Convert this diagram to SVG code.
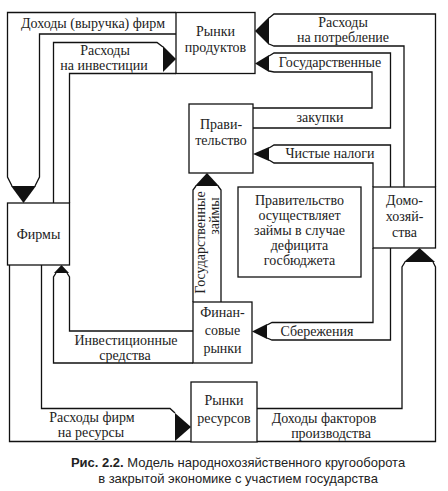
<svg xmlns="http://www.w3.org/2000/svg" width="448" height="491" viewBox="0 0 448 491">
<style>
.ln{fill:none;stroke:#111;stroke-width:1.3;stroke-linejoin:miter}
.box{fill:#fff;stroke:#111;stroke-width:1.3}
.tip{fill:#111;stroke:none}
.t{font-family:'Liberation Serif','DejaVu Serif','Times New Roman',serif;font-size:14px;text-anchor:middle;fill:#222}
.cap{font-family:'Liberation Sans','DejaVu Sans',Arial,sans-serif;font-size:13px;text-anchor:middle;fill:#222}
</style>
<rect width="448" height="491" fill="#fff"/>
<g id="connectors">
  <g id="c-revenue">
    <path class="ln" d="M176,12.5 H7.5 V177 L12,186"/>
    <path class="ln" d="M176,34 H39.5 V177 L35,186"/>
    <path class="tip" d="M11,186 L36,186 L23.5,203 Z"/>
    <text class="t" x="93" y="28">Доходы (выручка) фирм</text>
  </g>
  <g id="c-invest">
    <path class="ln" d="M53.5,203 V42.5 H157 L163,47"/>
    <path class="ln" d="M69.5,203 V73.5 H176"/>
    <path class="tip" d="M163,46 L163,72 L176,59 Z"/>
    <text class="t" x="105" y="55">Расходы</text>
    <text class="t" x="104" y="69.5">на инвестиции</text>
  </g>
  <g id="c-consumption">
    <path class="ln" d="M435.5,187 V14 H274 L269,18"/>
    <path class="ln" d="M404,187 V46 H274 L269,44"/>
    <path class="tip" d="M269,17 L269,45 L255,31 Z"/>
    <text class="t" x="343" y="27">Расходы</text>
    <text class="t" x="343" y="41.5">на потребление</text>
  </g>
  <g id="c-purchases">
    <path class="ln" d="M253,128 H390.5 V53 H274 L269,56"/>
    <path class="ln" d="M253,108 H372 V72 H274 L269,71"/>
    <path class="tip" d="M269,55 L269,72 L255,63.5 Z"/>
    <text class="t" x="330" y="67">Государственные</text>
    <text class="t" x="320" y="122">закупки</text>
  </g>
  <g id="c-taxes">
    <path class="ln" d="M390.5,187 V145 H274 L269,148"/>
    <path class="ln" d="M373,187 V163 H274 L269,160"/>
    <path class="tip" d="M269,147 L269,161 L253,154 Z"/>
    <text class="t" x="330" y="158">Чистые налоги</text>
  </g>
  <g id="c-savings">
    <path class="ln" d="M373,248 V322.5 H272 L267,325"/>
    <path class="ln" d="M390.5,248 V340 H272 L267,338"/>
    <path class="tip" d="M267,324 L267,339 L252,331.5 Z"/>
    <text class="t" x="317" y="336">Сбережения</text>
  </g>
  <g id="c-factor">
    <path class="ln" d="M257,408.5 H402 V267 L405,262"/>
    <path class="ln" d="M257,441.5 H435.5 V267 L433,262"/>
    <path class="tip" d="M404,262 L435,262 L419.5,248 Z"/>
    <text class="t" x="324" y="423">Доходы факторов</text>
    <text class="t" x="331" y="437.5">производства</text>
  </g>
  <g id="c-investfunds">
    <path class="ln" d="M193,331 H69.5 V277 L67,273"/>
    <path class="ln" d="M193,363 H53.5 V277 L56,273"/>
    <path class="tip" d="M54,273 L69,273 L61.5,265 Z"/>
    <text class="t" x="126" y="345">Инвестиционные</text>
    <text class="t" x="125" y="359.5">средства</text>
  </g>
  <g id="c-loans">
    <path class="ln" d="M193,302 V190 L196,186"/>
    <path class="ln" d="M221,302 V190 L218,186"/>
    <path class="tip" d="M195,186 L219,186 L207,173 Z"/>
    <text class="t" transform="translate(205,242.5) rotate(-90)">Государственные</text>
    <text class="t" transform="translate(218.5,216) rotate(-90)">займы</text>
  </g>
  <g id="c-resources">
    <path class="ln" d="M9.5,265 V441.5 H191"/>
    <path class="ln" d="M41.5,265 V408.5 H170 L175,413"/>
    <path class="tip" d="M175,413 L175,441 L191,427 Z"/>
    <text class="t" x="92" y="422">Расходы фирм</text>
    <text class="t" x="91" y="436.5">на ресурсы</text>
  </g>
</g>
<g id="n-product-markets">
  <rect class="box" x="176" y="12.5" width="79" height="61"/>
  <text class="t" x="215.5" y="36">Рынки</text>
  <text class="t" x="215.5" y="52">продуктов</text>
</g>
<g id="n-firms">
  <rect class="box" x="7.5" y="203" width="62" height="62"/>
  <text class="t" x="38.5" y="239">Фирмы</text>
</g>
<g id="n-government">
  <rect class="box" x="189" y="104" width="64" height="69"/>
  <text class="t" x="221" y="129">Прави-</text>
  <text class="t" x="221" y="145">тельство</text>
</g>
<g id="n-note">
  <rect class="box" x="238" y="187" width="123" height="90"/>
  <text class="t" x="299.5" y="205">Правительство</text>
  <text class="t" x="299.5" y="220">осуществляет</text>
  <text class="t" x="299.5" y="235">займы в случае</text>
  <text class="t" x="299.5" y="250">дефицита</text>
  <text class="t" x="299.5" y="265">госбюджета</text>
</g>
<g id="n-households">
  <rect class="box" x="373" y="187" width="62.5" height="61"/>
  <text class="t" x="404.5" y="205">Домо-</text>
  <text class="t" x="404.5" y="221">хозяй-</text>
  <text class="t" x="404.5" y="237">ства</text>
</g>
<g id="n-financial-markets">
  <rect class="box" x="193" y="302" width="59" height="61"/>
  <text class="t" x="222.5" y="317">Финан-</text>
  <text class="t" x="222.5" y="335">совые</text>
  <text class="t" x="222.5" y="353">рынки</text>
</g>
<g id="n-resource-markets">
  <rect class="box" x="191" y="382" width="66" height="60"/>
  <text class="t" x="224" y="405">Рынки</text>
  <text class="t" x="224" y="423">ресурсов</text>
</g>
<g id="caption">
  <text class="cap" x="238" y="467"><tspan font-weight="bold">Рис. 2.2.</tspan> Модель народнохозяйственного кругооборота</text>
  <text class="cap" x="238" y="483">в закрытой экономике с участием государства</text>
</g>
</svg>
